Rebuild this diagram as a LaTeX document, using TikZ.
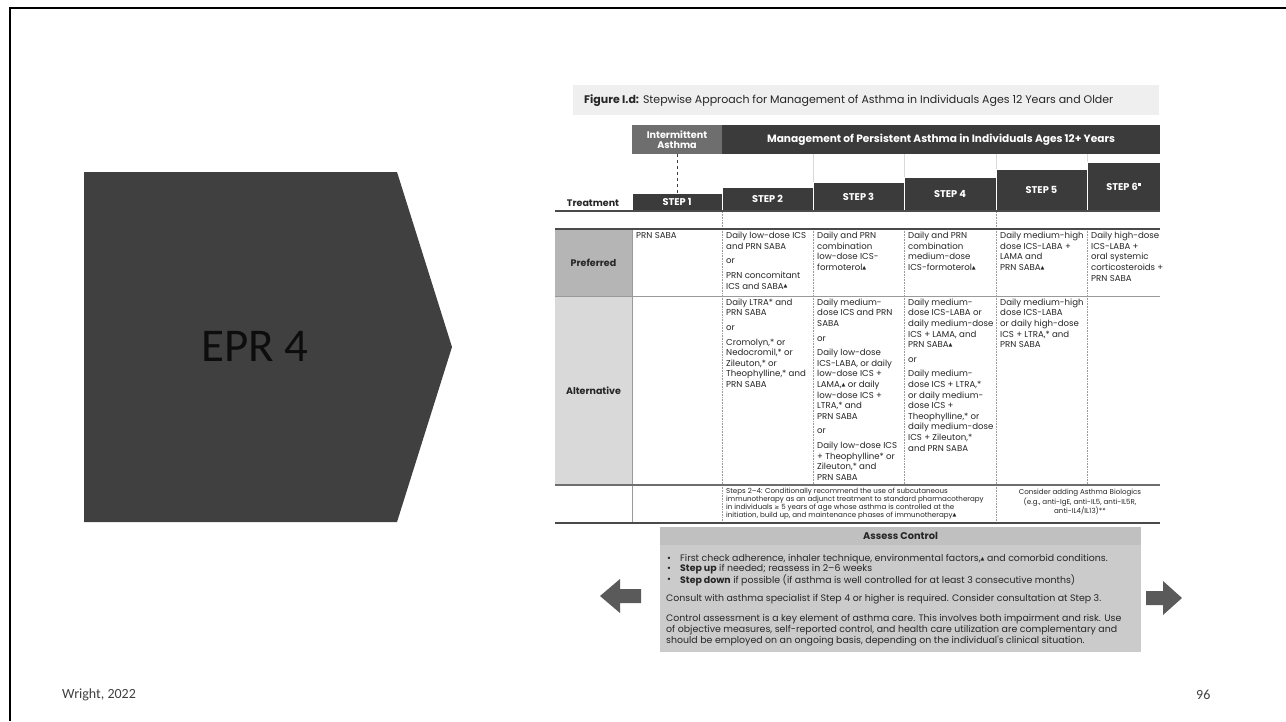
\documentclass[tikz,border=0pt]{standalone}
\usepackage{fontspec}
\setmainfont{Carlito}
\newfontfamily\gfont{Poppins}
\newfontfamily\symf{DejaVu Sans}
\definecolor{chev}{HTML}{404040}
\definecolor{eprtxt}{HTML}{0D0D0D}
\definecolor{foot}{HTML}{404040}
\definecolor{txt}{HTML}{262626}
\definecolor{hdark}{HTML}{3B3B3B}
\definecolor{hmid}{HTML}{6E6E6E}
\definecolor{bannerc}{HTML}{EFEFEF}
\definecolor{prefc}{HTML}{B5B5B5}
\definecolor{altc}{HTML}{D9D9D9}
\definecolor{acbody}{HTML}{CBCBCB}
\definecolor{achead}{HTML}{C0C0C0}
\definecolor{arrowc}{HTML}{5A5A5A}
\definecolor{rulec}{HTML}{4A4A4A}
\definecolor{lightrule}{HTML}{9A9A9A}
\newcommand\cellfont{\gfont\fontsize{8.6}{10.6}\selectfont}
\newcommand\immfont{\gfont\fontsize{7.1}{7.9}\selectfont}
\newcommand\hdrfont{\gfont\bfseries\fontsize{10.6}{11.5}\selectfont}
\newcommand\stepfont{\gfont\bfseries\fontsize{9.8}{11}\selectfont}
\newcommand\labfont{\gfont\bfseries\fontsize{9.5}{11}\selectfont}
\newcommand\acfont{\gfont\fontsize{9.4}{10.5}\selectfont}
\newcommand\titlefont{\gfont\fontsize{11}{13}\selectfont}
\newcommand\tri{{\symf\fontsize{5}{5}\selectfont\raisebox{1.3pt}{▲}}}
\newcommand\orgap{\\[4pt]or\\[4pt]}
\tikzset{
  tcell/.style={anchor=north west, inner sep=0pt, align=left, text=txt, font=\cellfont},
  hbox/.style={fill=#1, text=white, inner sep=0pt, font=\hdrfont, align=center},
  stepbox/.style={fill=hdark, draw=white, line width=0.6pt, text=white, inner sep=0pt, font=\stepfont},
  labcell/.style={fill=#1, inner sep=0pt, font=\labfont, text=txt},
  vdot/.style={draw=lightrule, densely dotted, line width=0.6pt},
  acline/.style={anchor=west, inner sep=0pt, font=\acfont, text=txt},
}
\begin{document}
\begin{tikzpicture}[x=1pt,y=-1pt]
\useasboundingbox (0,0) rectangle (1286,721);
\fill[white] (0,0) rectangle (1286,721);
\draw[line width=2.4pt] (1286,8) -- (10,8) -- (10,721);

% left chevron
\fill[chev] (84,172) -- (397,172) -- (452,347) -- (397,522) -- (84,522) -- cycle;
\node[font=\fontsize{47}{50}\selectfont, text=eprtxt, inner sep=0pt] (epr) at (255,346) {EPR 4};

% footer
\node[anchor=west, inner sep=0pt, font=\fontsize{14}{17}\selectfont, text=foot] (cite) at (62,695) {Wright, 2022};
\node[anchor=west, inner sep=0pt, font=\fontsize{14}{17}\selectfont, text=foot] (page) at (1196,695) {96};

% title banner
\fill[bannerc] (573,85) rectangle (1159,115);
\node[anchor=west, inner sep=0pt, font=\titlefont, text=txt] (title) at (584,100.5)
  {\textbf{Figure I.d:} Stepwise Approach for Management of Asthma in Individuals Ages 12 Years and Older};

% header boxes
\node[hbox=hmid, minimum width=90pt, minimum height=29pt, font=\gfont\bfseries\fontsize{9.6}{10.4}\selectfont] (inter) at (677,139.5) {Intermittent\\Asthma};
\node[hbox=hdark, minimum width=438pt, minimum height=29pt] (manage) at (941,139.5) {Management of Persistent Asthma in Individuals Ages 12+ Years};

% faint ticks under header
\foreach \xx/\yy in {813/182,904/177,996/169,1087/162}
  \draw[gray!30, line width=0.5pt] (\xx,154) -- (\xx,\yy);

% step boxes
\node[stepbox, minimum width=90pt, minimum height=18pt] (s1) at (677,202) {STEP 1};
\node[stepbox, minimum width=91pt, minimum height=24pt] (s2) at (767.5,199) {STEP 2};
\node[stepbox, minimum width=91pt, minimum height=29pt] (s3) at (858.5,196.5) {STEP 3};
\node[stepbox, minimum width=92pt, minimum height=34pt] (s4) at (950,194) {STEP 4};
\node[stepbox, minimum width=91pt, minimum height=42pt] (s5) at (1041.5,190) {STEP 5};
\node[stepbox, minimum width=73pt, minimum height=49pt] (s6) at (1123.5,186.5) {STEP 6\raisebox{4.5pt}{\rule{2.8pt}{2.8pt}}};
\draw[hdark, dashed, line width=0.7pt] (inter.south) -- (s1.north);

\node[inner sep=0pt, font=\labfont, text=txt] (treat) at (593,203) {Treatment};

% table rules
\draw[rulec, line width=1.6pt] (555,211) -- (1160,211);
\draw[vdot] (722,212) -- (722,228);
\draw[vdot] (996,212) -- (996,228);

% label cells
\node[labcell=prefc, minimum width=77pt, minimum height=67pt] (pref) at (593.5,262.5) {Preferred};
\node[labcell=altc, minimum width=77pt, minimum height=189pt] (alt) at (593.5,390.5) {Alternative};

\foreach \xx in {722,813,904,996,1087}
  \draw[vdot] (\xx,229) -- (\xx,485);
\draw[vdot] (722,485) -- (722,523);
\draw[vdot] (996,485) -- (996,523);
\draw[lightrule, line width=1pt] (632,229) -- (632,523);
\draw[lightrule, line width=1pt] (555,296) -- (1160,296);
\draw[rulec!80, line width=1.2pt] (555,485) -- (1160,485);
\draw[rulec, line width=2pt] (555,229) -- (1160,229);
\draw[rulec, line width=2pt] (555,523) -- (1160,523);

% preferred row
\node[tcell] (p1) at (636,232) {PRN SABA};
\node[tcell] (p2) at (726,232) {Daily low-dose ICS\\and PRN SABA\orgap PRN concomitant\\ICS and SABA\tri};
\node[tcell] (p3) at (817,232) {Daily and PRN\\combination\\low-dose ICS-\\formoterol\tri};
\node[tcell] (p4) at (908,232) {Daily and PRN\\combination\\medium-dose\\ICS-formoterol\tri};
\node[tcell] (p5) at (1000,232) {Daily medium-high\\dose ICS-LABA +\\LAMA and\\PRN SABA\tri};
\node[tcell] (p6) at (1091,232) {Daily high-dose\\ICS-LABA +\\oral systemic\\corticosteroids +\\PRN SABA};

% alternative row
\node[tcell] (a2) at (726,298.5) {Daily LTRA* and\\PRN SABA\orgap Cromolyn,* or\\Nedocromil,* or\\Zileuton,* or\\Theophylline,* and\\PRN SABA};
\node[tcell] (a3) at (817,298.5) {Daily medium-\\dose ICS and PRN\\SABA\orgap Daily low-dose\\ICS-LABA, or daily\\low-dose ICS +\\LAMA,\tri{} or daily\\low-dose ICS +\\LTRA,* and\\PRN SABA\orgap Daily low-dose ICS\\+ Theophylline* or\\Zileuton,* and\\PRN SABA};
\node[tcell] (a4) at (908,298.5) {Daily medium-\\dose ICS-LABA or\\daily medium-dose\\ICS + LAMA, and\\PRN SABA\tri\orgap Daily medium-\\dose ICS + LTRA,*\\or daily medium-\\dose ICS +\\Theophylline,* or\\daily medium-dose\\ICS + Zileuton,*\\and PRN SABA};
\node[tcell] (a5) at (1000,298.5) {Daily medium-high\\dose ICS-LABA\\or daily high-dose\\ICS + LTRA,* and\\PRN SABA};

% immunotherapy / biologics row
\node[tcell, font=\immfont] (imm) at (726,488) {Steps 2–4: Conditionally recommend the use of subcutaneous\\immunotherapy as an adjunct treatment to standard pharmacotherapy\\in individuals {\symf\fontsize{6}{6}\selectfont ≥} 5 years of age whose asthma is controlled at the\\initiation, build up, and maintenance phases of immunotherapy\tri};
\node[anchor=north, inner sep=0pt, align=center, text=txt, font=\immfont] (bio) at (1080,489) {Consider adding Asthma Biologics\\(e.g., anti-IgE, anti-IL5, anti-IL5R,\\anti-IL4/IL13)**};

% assess control
\fill[acbody] (660,527) rectangle (1141,652);
\fill[achead] (660,527) rectangle (1141,545);
\node[inner sep=0pt, font=\gfont\bfseries\fontsize{9.8}{11}\selectfont, text=txt] (achd) at (900.5,536) {Assess Control};
\node[acline] (d1) at (667,559) {•};
\node[acline] (d2) at (667,569.5) {•};
\node[acline] (d3) at (667,580) {•};
\node[acline] (l1) at (680,559) {First check adherence, inhaler technique, environmental factors,\tri{} and comorbid conditions.};
\node[acline] (l2) at (680,569.5) {\textbf{Step up} if needed; reassess in 2–6 weeks};
\node[acline] (l3) at (680,580) {\textbf{Step down} if possible (if asthma is well controlled for at least 3 consecutive months)};
\node[acline] (l4) at (666,599) {Consult with asthma specialist if Step 4 or higher is required. Consider consultation at Step 3.};
\node[acline] (l5) at (666,619) {Control assessment is a key element of asthma care. This involves both impairment and risk. Use};
\node[acline] (l6) at (666,630) {of objective measures, self-reported control, and health care utilization are complementary and};
\node[acline] (l7) at (666,641) {should be employed on an ongoing basis, depending on the individual's clinical situation.};

% side arrows
\fill[arrowc] (600,596) -- (620,579) -- (620,589) -- (641,589) -- (641,603) -- (620,603) -- (620,613) -- cycle;
\fill[arrowc] (1182,598) -- (1163,581) -- (1163,591) -- (1146,591) -- (1146,605) -- (1163,605) -- (1163,615) -- cycle;
\end{tikzpicture}
\end{document}
